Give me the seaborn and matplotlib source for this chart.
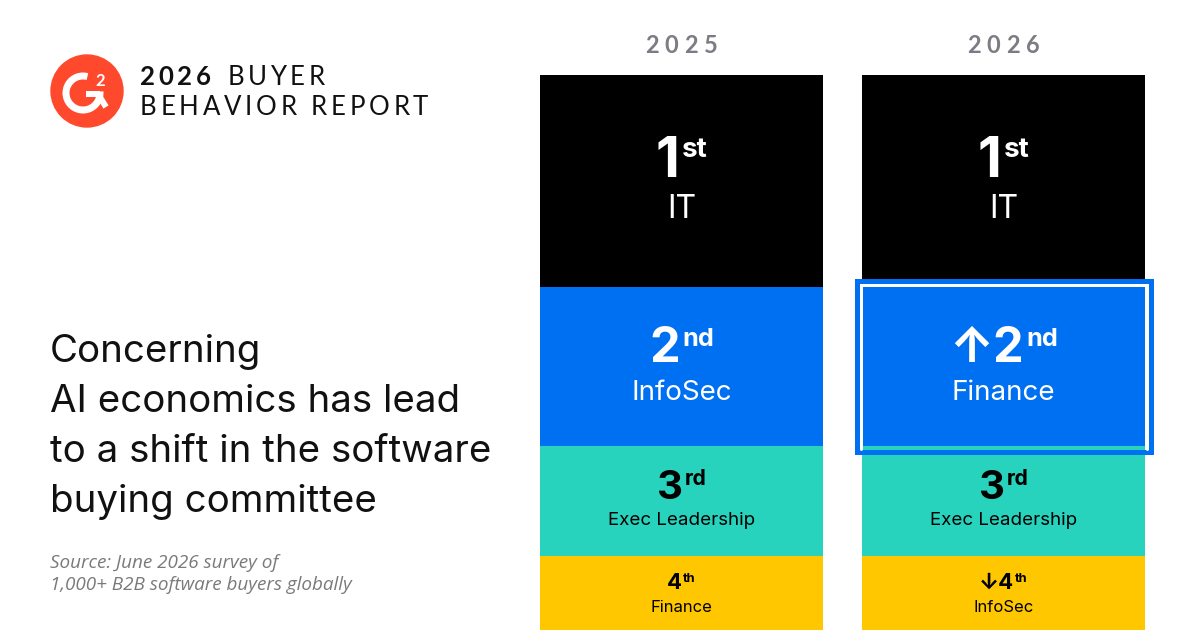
import matplotlib
matplotlib.use('Agg')
import matplotlib.pyplot as plt
from matplotlib.patches import Circle, Arc, Rectangle
import numpy as np
import pandas as pd
import seaborn as sns

# ---- data ----
years = ['2025', '2026']
rank_nums = ['1', '2', '3', '4']
rank_suffix = ['st', 'nd', 'rd', 'th']
roles_2025 = ['IT', 'InfoSec', 'Exec Leadership', 'Finance']
roles_2026 = ['IT', 'Finance', 'Exec Leadership', 'InfoSec']
moves_2025 = ['', '', '', '']
moves_2026 = ['', '\u2191', '', '\u2193']
slot_size = [38.2, 28.7, 19.8, 13.3]   # column share of each rank slot
highlight_year = '2026'
highlight_rank = '2'

headline = ['Concerning', 'AI economics has lead', 'to a shift in the software', 'buying committee']
source_lines = ['Source: June 2026 survey of', '1,000+ B2B software buyers globally']
report_bold = '2026'
report_line1 = ' BUYER'
report_line2 = 'BEHAVIOR REPORT'

# ---- style ----
slot_colors = ['#000000', '#0070F2', '#28D3BE', '#FFC700']
text_colors = ['white', 'white', 'black', 'black']
rank_size = [40, 35, 29, 16]
suffix_ratio = [0.5, 0.52, 0.52, 0.58]
name_size = [23, 20, 13.5, 12]
rank_dy = [4, 4.5, 2, 4]        # px above slot middle
name_dy = [-37, -33, -24, -19]
BAR_FONT = ['Inter', 'DejaVu Sans']
HEAD_FONT = ['Lato', 'DejaVu Sans']
PX = 100 / 72.0

sns.set_theme(style='white')
plt.rcParams['font.family'] = BAR_FONT

rows = []
for year, roles, moves in zip(years, [roles_2025, roles_2026], [moves_2025, moves_2026]):
    total = sum(slot_size)
    for i in range(len(rank_nums)):
        top = total - sum(slot_size[:i])
        rows.append(dict(year=year, idx=i, rank=rank_nums[i], suffix=rank_suffix[i],
                         role=roles[i], move=moves[i], size=slot_size[i], top=top,
                         mid=top - slot_size[i] / 2))
df = pd.DataFrame(rows)

fig = plt.figure(figsize=(12, 6.3), dpi=100)
fig.patch.set_facecolor('white')
renderer = fig.canvas.get_renderer()

bar_w = 283 / 322
ax = fig.add_axes([540 / 1200, 0, 605 / 1200, 555 / 630])
for i in range(len(rank_nums)):
    sub = df[df['idx'] == i]
    sns.barplot(data=sub, x='year', y='top', order=years, color=slot_colors[i],
                saturation=1, width=bar_w, linewidth=0, errorbar=None, ax=ax)
half = bar_w / 2
ax.set_xlim(-half, len(years) - 1 + half)
ax.set_ylim(0, sum(slot_size))
ax.axis('off')

ov = fig.add_axes([0, 0, 1, 1])
ov.set_xlim(0, 1200)
ov.set_ylim(630, 0)
ov.patch.set_alpha(0)
ov.axis('off')


def spaced(axes, xy, text, size, weight, color, spacing, ha='left', dy=0,
           family=HEAD_FONT, x_start=0, style='normal'):
    arts, widths = [], []
    for ch in text:
        t = axes.annotate(ch, xy, xytext=(0, dy), textcoords='offset pixels',
                          fontsize=size, fontweight=weight, color=color, family=family,
                          fontstyle=style, va='baseline', ha='left', annotation_clip=False)
        if ch == ' ':
            w = size * PX * 0.25
        else:
            w = t.get_window_extent(renderer).width
        arts.append(t)
        widths.append(w)
    total = sum(widths) + spacing * (len(text) - 1)
    x0 = -total / 2 if ha == 'center' else x_start
    for t, w in zip(arts, widths):
        t.xyann = (x0, dy)
        x0 += w + spacing
    return x0 + spacing


def rank_label(axes, x, y, main, suffix, size, ratio, color, dy):
    t1 = axes.annotate(main, (x, y), xytext=(0, dy), textcoords='offset pixels',
                       fontsize=size, fontweight='bold', color=color, family=BAR_FONT,
                       va='baseline', ha='left')
    s_size = size * ratio
    t2 = axes.annotate(suffix, (x, y), xytext=(0, dy), textcoords='offset pixels',
                       fontsize=s_size, fontweight='bold', color=color, family=BAR_FONT,
                       va='baseline', ha='left')
    w1 = t1.get_window_extent(renderer).width
    w2 = t2.get_window_extent(renderer).width
    gap = size * 0.06
    total = w1 + gap + w2
    raise_px = 0.727 * size * PX - 0.74 * s_size * PX
    t1.xyann = (-total / 2, dy)
    t2.xyann = (-total / 2 + w1 + gap, dy + raise_px)


for _, r in df.iterrows():
    x = years.index(r['year'])
    i = r['idx']
    rank_label(ax, x, r['mid'], r['move'] + r['rank'], r['suffix'], rank_size[i],
               suffix_ratio[i], text_colors[i], rank_dy[i])
    ax.annotate(r['role'], (x, r['mid']), xytext=(0, name_dy[i]), textcoords='offset pixels',
                fontsize=name_size[i], color=text_colors[i], family=BAR_FONT,
                ha='center', va='baseline')

# year headers
for j, year in enumerate(years):
    spaced(ax, (j, sum(slot_size)), year, 17, 'bold', '#7D7C84', 6, ha='center', dy=22)

# highlight box around the changed slot
hl = df[(df['year'] == highlight_year) & (df['rank'] == highlight_rank)].iloc[0]
hx = years.index(highlight_year)
px_x = 1 / 322.0
px_y = sum(slot_size) / 555.0
x0, x1 = hx - half - 5.5 * px_x, hx + half + 5.5 * px_x
y0, y1 = hl['top'] - hl['size'] - 6 * px_y, hl['top'] + 6.5 * px_y
ax.plot([x0 + 4 * px_x, x0 + 4 * px_x, x1 - 4 * px_x, x1 - 4 * px_x],
        [y0 + 3 * px_y, y1 - 4 * px_y, y1 - 4 * px_y, y0 + 3 * px_y],
        color='white', lw=3 * 0.72, clip_on=False, solid_joinstyle='miter')
ax.add_patch(Rectangle((x0, y0), x1 - x0, y1 - y0, fill=False, edgecolor='#0070F2',
                       lw=5 * 0.72, clip_on=False, joinstyle='miter'))

# logo
ov.add_patch(Circle((87, 91), 36, color='#FF492C'))
ov.add_patch(Arc((83, 93), 34, 34, theta1=-5, theta2=285, color='white', lw=7 * 0.72))
ov.plot([86, 98, 106], [94, 94, 107], color='white', lw=6 * 0.72, solid_capstyle='butt',
        solid_joinstyle='miter')
ov.text(100, 86, '2', color='white', fontsize=12, fontweight='bold', family=HEAD_FONT,
        ha='center', va='baseline')

# report title
end = spaced(ov, (140, 85), report_bold, 18.5, 'bold', '#111111', 3.6)
spaced(ov, (140, 85), report_line1, 18.5, 'normal', '#111111', 3.6, x_start=end)
spaced(ov, (140, 115), report_line2, 18.5, 'normal', '#111111', 3.8)

# headline
for k, line in enumerate(headline):
    ov.text(50, 362 + 50 * k, line, fontsize=27.7, color='#111111', family=BAR_FONT,
            ha='left', va='baseline')

# source
for k, line in enumerate(source_lines):
    ov.text(50, 568 + 22 * k, line, fontsize=13.6, color='#7A7A7A',
            family=['Open Sans', 'DejaVu Sans'], fontstyle='italic', ha='left', va='baseline')

fig.savefig('out.png', dpi=100, facecolor='white')
